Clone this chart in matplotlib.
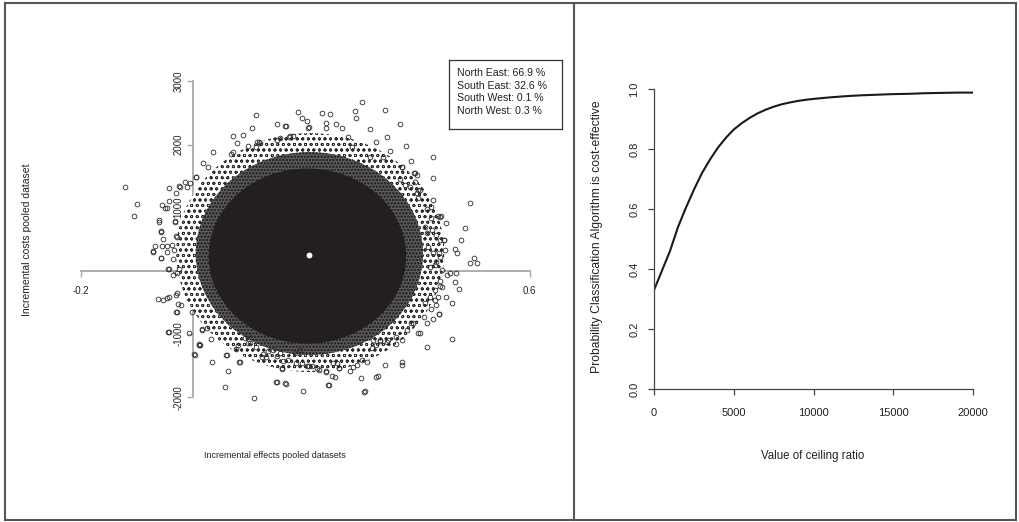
import matplotlib
matplotlib.use("Agg")
import matplotlib.pyplot as plt
from matplotlib import font_manager
from matplotlib.lines import Line2D
from matplotlib.patches import Ellipse
import numpy as np

# ---- data ----
# outlying bootstrap replicates (incremental effect, incremental cost)
pts_left = [(-0.121, 1333), (-0.100, 1059), (-0.105, 870), (-0.060, 806), (-0.042, 1307),
            (-0.056, 1044), (-0.047, 991), (-0.032, 790), (-0.057, 622), (-0.072, 306),
            (-0.068, 395), (-0.057, 200), (-0.056, 395), (-0.046, 395), (-0.044, 26),
            (-0.034, 332), (-0.028, 543), (-0.023, 1333), (-0.030, 1228), (-0.014, 1413),
            (-0.005, 1397), (0.005, 1492), (-0.063, -448), (-0.054, -459), (-0.047, -432),
            (-0.028, -643), (-0.043, -970), (-0.022, -538), (-0.007, -986), (0.003, -1329),
            (0.013, -1170), (-0.002, -643), (-0.030, -380), (-0.035, -63), (-0.024, 26),
            (-0.024, 1345), (-0.010, 1334), (0.006, 1482), (-0.050, 992), (-0.042, 1112),
            (-0.060, 780), (-0.057, 638), (-0.054, 501), (-0.071, 321), (-0.057, 201),
            (-0.047, 305), (-0.038, 411), (-0.030, 554), (-0.032, 780), (-0.036, 185),
            (-0.042, 27), (-0.029, -36), (-0.042, -406), (-0.029, -353), (-0.026, -522),
            (-0.030, -643), (-0.044, -965), (0.011, -1155), (0.002, -1313), (0.016, -922),
            (0.025, -906)]
pts_top = [(0.036, 1877), (0.018, 1703), (0.027, 1650), (0.072, 2134), (0.089, 2145),
           (0.078, 2029), (0.105, 2255), (0.112, 2466), (0.098, 1982), (0.118, 2045),
           (0.150, 2319), (0.165, 2292), (0.171, 2124), (0.188, 2519), (0.195, 2414),
           (0.203, 2377), (0.207, 2282), (0.230, 2493), (0.245, 2477), (0.237, 2255),
           (0.255, 2319), (0.288, 2530), (0.291, 2414), (0.302, 2677), (0.343, 2545),
           (0.369, 2319), (0.316, 2240), (0.346, 2124), (0.380, 1982), (0.352, 1898),
           (0.388, 1744), (0.428, 1808), (0.428, 1466), (0.395, 1555), (0.326, 2045),
           (0.277, 2124), (0.283, 1967), (0.316, 1808), (0.339, 1808), (0.372, 1650),
           (0.402, 1281), (0.428, 1123), (0.425, 1007), (0.440, 859), (0.451, 764),
           (0.173, 2140), (0.179, 2140), (0.149, 2071), (0.155, 2108), (0.115, 2045),
           (0.119, 2018), (0.113, 1966), (0.068, 1845), (0.071, 1876), (0.265, 2256),
           (0.238, 2335), (0.205, 2266), (0.164, 2298)]
pts_right = [(0.493, 1070), (0.485, 675), (0.478, 490), (0.467, 343), (0.471, 279),
             (0.493, 132), (0.501, 200), (0.507, 121), (0.448, 490), (0.438, 279),
             (0.458, -37), (0.468, -37), (0.474, -290), (0.467, -169), (0.451, -406),
             (0.461, -511), (0.438, -680), (0.428, -765), (0.441, -237), (0.431, -459),
             (0.461, -1081), (0.417, -1207), (0.402, -975), (0.389, -817),
             (0.372, 1640), (0.394, 1556), (0.400, 1519), (0.369, 1451), (0.378, 1361),
             (0.387, 1334), (0.396, 1413), (0.400, 1239), (0.405, 1281), (0.402, 1150),
             (0.437, 870), (0.442, 870), (0.418, 976), (0.424, 834), (0.414, 701),
             (0.418, 596), (0.426, 649), (0.434, 570), (0.440, 490), (0.447, 490),
             (0.449, 332), (0.440, 226), (0.434, 147), (0.443, 16), (0.452, -63),
             (0.419, 385), (0.428, 280), (0.422, 68), (0.431, 95), (0.440, -153),
             (0.443, -248), (0.431, -301), (0.422, -406), (0.437, -406), (0.433, -538),
             (0.439, -680), (0.425, -606), (0.414, -511), (0.411, -723), (0.417, -827),
             (0.405, -986), (0.393, -827), (0.381, -933), (0.372, -1091), (0.362, -1039),
             (0.345, -1118), (0.333, -1102), (0.321, -1091), (0.327, -1170)]
pts_bottom = [(0.372, -1434), (0.372, -1487), (0.343, -1487), (0.362, -1154), (0.348, -1091),
              (0.329, -1661), (0.306, -1898), (0.300, -1687), (0.310, -1434), (0.280, -1576),
              (0.260, -1539), (0.250, -1460), (0.242, -1803), (0.237, -1576), (0.253, -1671),
              (0.222, -1539), (0.203, -1503), (0.196, -1893), (0.184, -1460), (0.164, -1777),
              (0.150, -1751), (0.159, -1539), (0.131, -1355), (0.109, -2004), (0.084, -1434),
              (0.077, -1239), (0.059, -1329), (0.062, -1582), (0.057, -1840), (0.034, -1434),
              (0.032, -1081), (0.016, -933), (0.112, -1197), (0.098, -1144),
              (0.011, -1171), (0.060, -1329), (0.083, -1435), (0.081, -1171), (0.093, -1065),
              (0.102, -1144), (0.099, -1012), (0.123, -1366), (0.125, -1313), (0.133, -1261),
              (0.142, -1250), (0.149, -1345), (0.155, -1302), (0.161, -1419), (0.170, -1408),
              (0.182, -1302), (0.191, -1250), (0.158, -1555), (0.148, -1751), (0.165, -1788),
              (0.194, -1451), (0.213, -1503), (0.206, -1503), (0.224, -1566), (0.238, -1593),
              (0.247, -1661), (0.256, -1460), (0.261, -1540), (0.241, -1803), (0.286, -1514),
              (0.293, -1487), (0.301, -1408), (0.305, -1909), (0.327, -1672), (0.319, -1223),
              (0.333, -1091)]

# the bulk of the cloud is too dense to separate single points:
# extents (left, right, bottom, top) of zones of roughly equal darkness
zones = [(-0.030, 0.448, -1600, 2180),   # scattered circles
         (0.005, 0.410, -1330, 1880),    # dense, overlapping
         (0.028, 0.380, -1150, 1620)]    # solid
zone_faces = ['white', '#5e5b5b', '#231f20']
zone_hatch = ['ooo', 'ooooo', None]
mean_point = (0.206, 253)

quadrant_text = ["North East: 66.9 %", "South East: 32.6 %",
                 "South West: 0.1 %", "North West: 0.3 %"]

# acceptability curve
ceiling = [0, 500, 1000, 1500, 2000, 2500, 3000, 3500, 4000, 4500, 5000, 5500, 6000,
           6500, 7000, 7500, 8000, 8500, 9000, 9500, 10000, 11000, 12000, 13000, 14000,
           15000, 16000, 17000, 18000, 19000, 20000]
prob_ce = [0.330, 0.395, 0.460, 0.540, 0.605, 0.665, 0.720, 0.765, 0.805, 0.838, 0.866,
           0.887, 0.905, 0.920, 0.932, 0.942, 0.950, 0.956, 0.961, 0.965, 0.968, 0.973,
           0.977, 0.980, 0.982, 0.984, 0.985, 0.987, 0.988, 0.989, 0.989]

# ---- fonts ----
names = {f.name for f in font_manager.fontManager.ttflist}
normal = 'Liberation Sans' if 'Liberation Sans' in names else 'DejaVu Sans'
plt.rcParams['font.family'] = [normal, 'DejaVu Sans']
plt.rcParams['hatch.linewidth'] = 0.6

W, H = 1019, 522
fig = plt.figure(figsize=(W / 100, H / 100), dpi=100)


def box(x0, y0, x1, y1):
    # pixel box (top-left origin) -> figure fraction rect
    return [x0 / W, 1 - y1 / H, (x1 - x0) / W, (y1 - y0) / H]


# ---- left: cost-effectiveness plane ----
ax = fig.add_axes(box(80.7, 81.3, 529.6, 397.3))
ax.set_xlim(-0.2, 0.6)
ax.set_ylim(-2000, 3000)
ax.patch.set_alpha(0)
for s in ['top', 'right']:
    ax.spines[s].set_visible(False)
ax.spines['left'].set_position(('data', 0))
ax.spines['bottom'].set_position(('data', 0))
ax.spines['left'].set_bounds(-2000, 3000)
ax.spines['bottom'].set_bounds(-0.2, 0.6)
for s in ['left', 'bottom']:
    ax.spines[s].set_color('#a8a8a8')
    ax.spines[s].set_linewidth(1.3)
    ax.spines[s].set_zorder(0.5)
ax.xaxis.set_zorder(0.4)
ax.yaxis.set_zorder(0.4)
ax.set_xticks([-0.2, 0.0, 0.2, 0.4, 0.6])
ax.set_xticklabels(['-0.2', '0.0', '0.2', '0.4', '0.6'], fontsize=7.0)
ax.set_yticks([-2000, -1000, 0, 1000, 2000, 3000])
ax.set_yticklabels(['-2000', '-1000', '0', '1000', '2000', '3000'],
                   rotation=90, va='center', fontsize=6.9)
ax.tick_params(axis='both', direction='out', length=4, width=1.0, color='#a8a8a8',
               labelcolor='#222222')
ax.tick_params(axis='x', pad=7)
ax.tick_params(axis='y', pad=3)

for (x0, x1, y0, y1), face, hatch in zip(zones, zone_faces, zone_hatch):
    ax.add_patch(Ellipse(((x0 + x1) / 2, (y0 + y1) / 2), x1 - x0, y1 - y0,
                         facecolor=face, edgecolor='#2a2a2a' if hatch else 'none',
                         lw=0, hatch=hatch, zorder=1))

pts = np.array(pts_left + pts_top + pts_right + pts_bottom)
ax.plot(pts[:, 0], pts[:, 1], 'o', mfc='none', mec='#2a2a2a', ms=3.4, mew=0.6,
        clip_on=False, zorder=2)
ax.plot(*mean_point, 'o', color='white', ms=3.2, zorder=3)

fig.text(27 / W, 1 - 240 / H, 'Incremental costs pooled dataset', rotation=90,
         ha='center', va='center', fontsize=7.5, color='#222222')
fig.text(275 / W, 1 - 456 / H, 'Incremental effects pooled datasets', ha='center',
         va='center', fontsize=6.4, color='#222222')

# quadrant legend
lg = fig.add_axes(box(449, 60, 562, 129))
lg.set_xticks([])
lg.set_yticks([])
for s in lg.spines.values():
    s.set_color('#333333')
    s.set_linewidth(0.9)
for i, t in enumerate(quadrant_text):
    lg.text(8 / 113, 1 - (13 + 12.7 * i) / 69, t, transform=lg.transAxes,
            ha='left', va='center', fontsize=7.6, color='#222222')

# ---- right: acceptability curve ----
ax2 = fig.add_axes(box(654, 89.3, 973.3, 389))
ax2.plot(ceiling, prob_ce, color='#1a1a1a', lw=1.5)
ax2.set_xlim(0, 20000)
ax2.set_ylim(0, 1)
for s in ['top', 'right']:
    ax2.spines[s].set_visible(False)
for s in ['left', 'bottom']:
    ax2.spines[s].set_color('#444444')
    ax2.spines[s].set_linewidth(0.9)
ax2.set_xticks([0, 5000, 10000, 15000, 20000])
ax2.set_yticks([0.0, 0.2, 0.4, 0.6, 0.8, 1.0])
ax2.set_yticklabels(['0.0', '0.2', '0.4', '0.6', '0.8', '1.0'], rotation=90, va='center')
ax2.tick_params(direction='out', length=4.5, width=0.9, color='#444444',
                labelsize=8, labelcolor='#222222')
ax2.tick_params(axis='x', pad=9)
ax2.tick_params(axis='y', pad=6)
fig.text(813 / W, 1 - 456 / H, 'Value of ceiling ratio', ha='center', va='center',
         fontsize=8.3, color='#222222')
fig.text(597 / W, 1 - 237 / H, 'Probability Classification Algorithm is cost-effective',
         rotation=90, ha='center', va='center', fontsize=8.7, color='#222222')

# ---- frame around both panels ----
frame = dict(color='#555555', lw=1.5)
for xs, ys in [([5, 1016], [3, 3]), ([5, 1016], [520, 520]), ([5, 5], [3, 520]),
               ([1016, 1016], [3, 520]), ([574, 574], [3, 520])]:
    fig.add_artist(Line2D([x / W for x in xs], [1 - y / H for y in ys], **frame))

fig.savefig('out.png', dpi=100)
